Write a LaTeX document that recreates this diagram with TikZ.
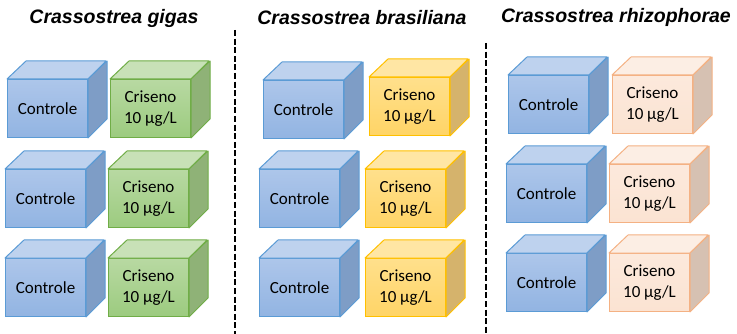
\documentclass[tikz,border=0pt]{standalone}
\usepackage{fontspec}
\setmainfont{Carlito}
\newfontfamily\titlefont{Liberation Sans}
\definecolor{bFt}{HTML}{ADC6EA}\definecolor{bFb}{HTML}{92B4E2}
\definecolor{bT}{HTML}{BED2EE}\definecolor{bS}{HTML}{7E9DC6}\definecolor{bB}{HTML}{5B9BD5}
\definecolor{gFt}{HTML}{B8D9A2}\definecolor{gFb}{HTML}{9CCB7F}
\definecolor{gT}{HTML}{C8E1B7}\definecolor{gS}{HTML}{8FB277}\definecolor{gB}{HTML}{70AD47}
\definecolor{oFt}{HTML}{FFE08C}\definecolor{oFb}{HTML}{FFD466}
\definecolor{oT}{HTML}{FFE6A4}\definecolor{oS}{HTML}{D5B36C}\definecolor{oB}{HTML}{FFC000}
\definecolor{sFt}{HTML}{FCE9DC}\definecolor{sFb}{HTML}{FBE3D2}
\definecolor{sT}{HTML}{FCEEE4}\definecolor{sS}{HTML}{D6C1B2}\definecolor{sB}{HTML}{F4B183}
\tikzset{
  x=1pt,y=-1pt,
  face/.style={line width=1pt,line join=round},
  frontbox/.style={anchor=north west,minimum width=80pt,minimum height=58pt,inner sep=0pt,
    line width=1pt,font=\fontsize{17}{20.5}\selectfont,align=center},
  title/.style={font=\titlefont\bfseries\itshape\fontsize{19.5}{22}\selectfont},
  sep/.style={line width=1.8pt,dash pattern=on 6pt off 2.6pt}
}
% #1 name, #2 x, #3 y, #4 color prefix, #5 text
\newcommand{\mycube}[5]{%
  \node[frontbox,draw=#4B,top color=#4Ft,bottom color=#4Fb] (#1) at (#2,#3) {#5};
  \fill[#4T,draw=#4B,face] (#1.north west) -- ++(19,-18) -- ++(80,0) -- (#1.north east) -- cycle;
  \fill[#4S,draw=#4B,face] (#1.north east) -- ++(19,-18) -- ++(0,58) -- (#1.south east) -- cycle;
}
\begin{document}
\begin{tikzpicture}
\useasboundingbox (0,0) rectangle (737,334);
\node[title] (t1) at (114,18) {Crassostrea gigas};
\node[title] (t2) at (362,18) {Crassostrea brasiliana};
\node[title] (t3) at (616,17) {Crassostrea rhizophorae};
\coordinate (d1a) at (235,30); \coordinate (d1b) at (235,334);
\coordinate (d2a) at (486,43); \coordinate (d2b) at (486,334);
\draw[sep] (d1a) -- (d1b);
\draw[sep] (d2a) -- (d2b);
% column 1
\mycube{a1}{7}{79}{b}{Controle}
\mycube{a2}{110}{79}{g}{Criseno\\10 µg/L}
\mycube{a3}{5}{169}{b}{Controle}
\mycube{a4}{108}{169}{g}{Criseno\\10 µg/L}
\mycube{a5}{5}{258}{b}{Controle}
\mycube{a6}{108}{258}{g}{Criseno\\10 µg/L}
% column 2
\mycube{b1}{263}{80}{b}{Controle}
\mycube{b2}{369}{77}{o}{Criseno\\10 µg/L}
\mycube{b3}{259}{169}{b}{Controle}
\mycube{b4}{365}{169}{o}{Criseno\\10 µg/L}
\mycube{b5}{259}{258}{b}{Controle}
\mycube{b6}{365}{258}{o}{Criseno\\10 µg/L}
% column 3
\mycube{c1}{508}{75}{b}{Controle}
\mycube{c2}{612}{75}{s}{Criseno\\10 µg/L}
\mycube{c3}{506}{164}{b}{Controle}
\mycube{c4}{609}{164}{s}{Criseno\\10 µg/L}
\mycube{c5}{506}{253}{b}{Controle}
\mycube{c6}{609}{253}{s}{Criseno\\10 µg/L}
\end{tikzpicture}
\end{document}
